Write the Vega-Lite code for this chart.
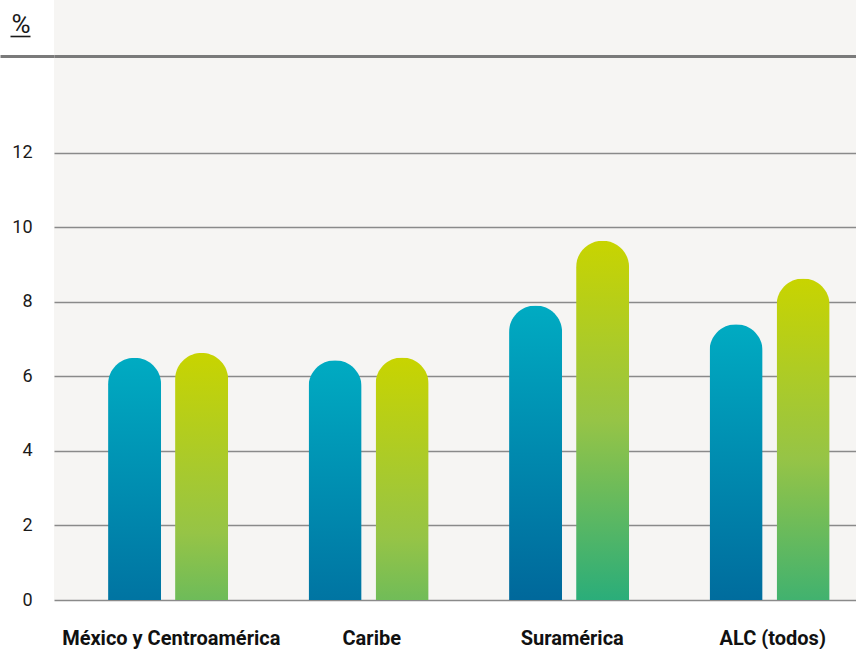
{
  "$schema": "https://vega.github.io/schema/vega-lite/v6.json",
  "width": 802,
  "height": 600,
  "autosize": {"type": "none"},
  "padding": {"left": 54, "top": 0, "right": 0, "bottom": 49},
  "background": "#ffffff",
  "config": {
    "view": {"fill": "#f6f5f3", "stroke": null},
    "font": "Roboto"
  },
  "data": {
    "values": [
      {"region": "México y Centroamérica", "grupo": "1", "valor": 6.50},
      {"region": "México y Centroamérica", "grupo": "2", "valor": 6.63},
      {"region": "Caribe", "grupo": "1", "valor": 6.43},
      {"region": "Caribe", "grupo": "2", "valor": 6.51},
      {"region": "Suramérica", "grupo": "1", "valor": 7.90},
      {"region": "Suramérica", "grupo": "2", "valor": 9.64},
      {"region": "ALC (todos)", "grupo": "1", "valor": 7.40},
      {"region": "ALC (todos)", "grupo": "2", "valor": 8.63}
    ]
  },
  "mark": {"type": "bar", "cornerRadiusTopLeft": 26.5, "cornerRadiusTopRight": 26.5},
  "encoding": {
    "x": {
      "field": "region",
      "type": "nominal",
      "sort": null,
      "scale": {"paddingInner": 0, "paddingOuter": 0},
      "axis": {
        "title": null,
        "domain": false,
        "ticks": false,
        "tickSize": 0,
        "grid": false,
        "labelAngle": 0,
        "labelLimit": 0,
        "labelOffset": 17,
        "labelFontSize": 20,
        "labelFontWeight": "bold",
        "labelColor": "#111111",
        "labelPadding": 44,
        "labelBaseline": "alphabetic"
      }
    },
    "xOffset": {
      "field": "grupo",
      "type": "nominal",
      "scale": {"paddingInner": 0.209, "paddingOuter": 0.6, "align": 0.672}
    },
    "y": {
      "field": "valor",
      "type": "quantitative",
      "scale": {"domain": [0, 16.1], "nice": false},
      "axis": {
        "values": [0, 2, 4, 6, 8, 10, 12, 14.59, 15.14],
        "labelExpr": "datum.value > 13 ? '' : datum.label",
        "title": "%",
        "titleAngle": 0,
        "titleX": -43,
        "titleY": 32,
        "titleAlign": "left",
        "titleBaseline": "alphabetic",
        "titleFontSize": 26,
        "titleFontWeight": "normal",
        "titleColor": "#1a1a1a",
        "labelFontSize": 18,
        "labelColor": "#1a1a1a",
        "labelPadding": 22,
        "domain": false,
        "grid": true,
        "gridColor": {"condition": {"test": "datum.value > 14", "value": "#7a7a7a"}, "value": "#8a8a8a"},
        "gridWidth": {"condition": {"test": "datum.value > 14", "value": 3}, "value": 1.6},
        "gridOpacity": {"condition": {"test": "datum.value > 15", "value": 0}, "value": 1},
        "ticks": true,
        "tickSize": {"condition": [{"test": "datum.value > 15", "value": 44}, {"test": "datum.value > 14", "value": 54}], "value": 0},
        "tickColor": {"condition": [{"test": "datum.value > 15", "value": "#1a1a1a"}, {"test": "datum.value > 14", "value": "#7a7a7a"}], "value": "#8a8a8a"},
        "tickWidth": {"condition": [{"test": "datum.value > 15", "value": 1.6}, {"test": "datum.value > 14", "value": 3}], "value": 0},
        "tickDash": {"condition": {"test": "datum.value > 15", "value": [20, 24]}, "value": []},
        "tickDashOffset": {"condition": {"test": "datum.value > 15", "value": 20}, "value": 0}
      }
    },
    "fill": {
      "condition": [
        {"test": "datum.region === 'México y Centroamérica' && datum.grupo === '1'", "value": {"gradient": "linear", "x1": 0, "y1": 0, "x2": 0, "y2": 1.486, "stops": [{"offset": 0, "color": "#00abc2"}, {"offset": 1, "color": "#005992"}]}},
        {"test": "datum.region === 'México y Centroamérica' && datum.grupo === '2'", "value": {"gradient": "linear", "x1": 0, "y1": 0, "x2": 0, "y2": 1.457, "stops": [{"offset": 0, "color": "#c8d400"}, {"offset": 0.5, "color": "#96c446"}, {"offset": 1, "color": "#2aad7a"}]}},
        {"test": "datum.region === 'Caribe' && datum.grupo === '1'", "value": {"gradient": "linear", "x1": 0, "y1": 0, "x2": 0, "y2": 1.502, "stops": [{"offset": 0, "color": "#00abc2"}, {"offset": 1, "color": "#005992"}]}},
        {"test": "datum.region === 'Caribe' && datum.grupo === '2'", "value": {"gradient": "linear", "x1": 0, "y1": 0, "x2": 0, "y2": 1.484, "stops": [{"offset": 0, "color": "#c8d400"}, {"offset": 0.5, "color": "#96c446"}, {"offset": 1, "color": "#2aad7a"}]}},
        {"test": "datum.region === 'Suramérica' && datum.grupo === '1'", "value": {"gradient": "linear", "x1": 0, "y1": 0, "x2": 0, "y2": 1.223, "stops": [{"offset": 0, "color": "#00abc2"}, {"offset": 1, "color": "#005992"}]}},
        {"test": "datum.region === 'Suramérica' && datum.grupo === '2'", "value": {"gradient": "linear", "x1": 0, "y1": 0, "x2": 0, "y2": 1.002, "stops": [{"offset": 0, "color": "#c8d400"}, {"offset": 0.5, "color": "#96c446"}, {"offset": 1, "color": "#2aad7a"}]}},
        {"test": "datum.region === 'ALC (todos)' && datum.grupo === '1'", "value": {"gradient": "linear", "x1": 0, "y1": 0, "x2": 0, "y2": 1.305, "stops": [{"offset": 0, "color": "#00abc2"}, {"offset": 1, "color": "#005992"}]}}
      ],
      "value": {"gradient": "linear", "x1": 0, "y1": 0, "x2": 0, "y2": 1.119, "stops": [{"offset": 0, "color": "#c8d400"}, {"offset": 0.5, "color": "#96c446"}, {"offset": 1, "color": "#2aad7a"}]}
    }
  }
}
